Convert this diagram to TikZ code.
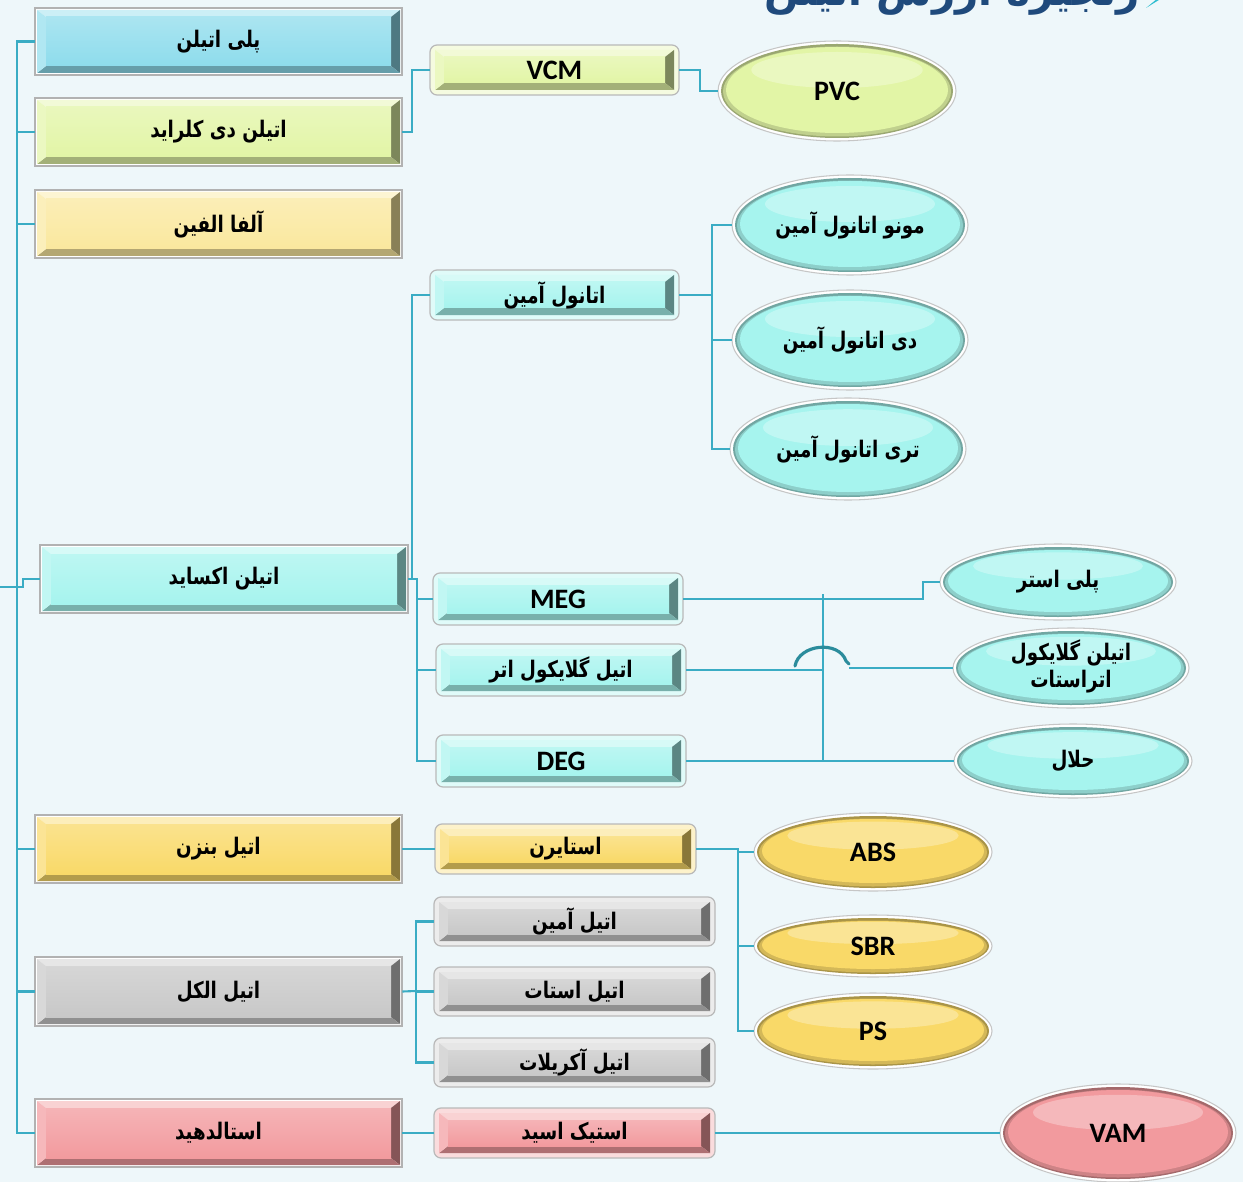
\documentclass[tikz,border=0pt]{standalone}
\usepackage{fontspec}
\TeXXeTstate=1
\newfontfamily\fa[Script=Arabic, FakeStretch=0.8]{DejaVu Sans}
\newfontfamily\fat[Script=Arabic]{DejaVu Sans}
\newfontfamily\lat{Carlito}
\usetikzlibrary{calc,shapes.geometric}
\definecolor{bg}{HTML}{EEF7FA}
\definecolor{cline}{HTML}{3AACC4}
\definecolor{chop}{HTML}{2B8C9C}
\definecolor{ctitle}{HTML}{1F4A7C}
\definecolor{cblue}{HTML}{8EDCEC}
\definecolor{cygr}{HTML}{E2F5A6}
\definecolor{cyel}{HTML}{FAE89E}
\definecolor{ccyan}{HTML}{A6F4EE}
\definecolor{cgold}{HTML}{F9D968}
\definecolor{cgray}{HTML}{C8C8C8}
\definecolor{cpink}{HTML}{F29A9E}
\newcommand\fatxt{\fa\bfseries\fontsize{13}{17}\selectfont}
\newcommand\latxt{\lat\bfseries\fontsize{16}{18}\selectfont}
\tikzset{
  conn/.style={draw=cline, line width=1.2pt},
  hop/.style={draw=chop, line width=1.8pt, line cap=round},
  boxnode/.style={rectangle, inner sep=0pt, text=black},
  ellnode/.style={ellipse, inner sep=0pt, text=black},
}
\newcommand\bevcore[5]{%
  \pgfmathsetmacro\bxa{#1}\pgfmathsetmacro\bya{#2}%
  \pgfmathsetmacro\bxb{#3}\pgfmathsetmacro\byb{#4}%
  \pgfmathsetmacro\ixa{\bxa+9}\pgfmathsetmacro\iya{\bya+7}%
  \pgfmathsetmacro\ixb{\bxb-9}\pgfmathsetmacro\iyb{\byb-7}%
  \fill[#5!45!white] (\bxa,\bya) -- (\bxb,\bya) -- (\ixb,\iya) -- (\ixa,\iya) -- cycle;
  \fill[#5!55!black] (\bxb,\bya) -- (\bxb,\byb) -- (\ixb,\iyb) -- (\ixb,\iya) -- cycle;
  \fill[#5!72!black] (\bxb,\byb) -- (\bxa,\byb) -- (\ixa,\iyb) -- (\ixb,\iyb) -- cycle;
  \fill[#5!70!white] (\bxa,\byb) -- (\bxa,\bya) -- (\ixa,\iya) -- (\ixa,\iyb) -- cycle;
  \shade[top color=#5!75!white, bottom color=#5] (\ixa,\iya) rectangle (\ixb,\iyb);
}
\newcommand\leftbox[7]{%
  \filldraw[fill=white, draw=gray!60, line width=0.7pt] (#2,#3) rectangle (#4,#5);
  \bevcore{#2+2}{#3+2}{#4-2}{#5-2}{#6}
  \node[boxnode, minimum width={(#4-#2)*0.02cm}, minimum height={(#5-#3)*0.02cm}]
    (#1) at ({(#2+#4)/2},{(#3+#5)/2}) {#7};
}
\newcommand\midbox[7]{%
  \filldraw[fill=#6!35!white, draw=gray!55, line width=0.7pt, rounded corners=4pt] (#2,#3) rectangle (#4,#5);
  \bevcore{#2+5}{#3+5}{#4-5}{#5-5}{#6}
  \node[boxnode, minimum width={(#4-#2)*0.02cm}, minimum height={(#5-#3)*0.02cm}]
    (#1) at ({(#2+#4)/2},{(#3+#5)/2}) {#7};
}
\newcommand\gloss[7]{%
  \filldraw[fill=white, draw=gray!45, line width=0.6pt] (#2,#3) ellipse [x radius=#4, y radius=#5];
  \fill[#6!68!black] (#2,#3) ellipse [x radius=#4-3, y radius=#5-3];
  \fill[#6!85!black] (#2,#3+0.5) ellipse [x radius=#4-5, y radius=#5-5];
  \fill[#6] (#2,#3-1) ellipse [x radius=#4-8, y radius=#5-7];
  \fill[white, opacity=0.3] (#2,{#3-#5*0.42}) ellipse [x radius={#4*0.72}, y radius={#5*0.36}];
  \node[ellnode, minimum width={#4*0.04cm}, minimum height={#5*0.04cm}] (#1) at (#2,#3) {#7};
}
\begin{document}
\begin{tikzpicture}[x=0.02cm, y=-0.02cm]
\fill[bg] (0,0) rectangle (1243,1182);
\useasboundingbox (0,0) rectangle (1243,1182);
\begin{scope}
\clip (0,0) rectangle (1243,1182);
% title, cut by the top edge as in the reference
\node[font=\fat\bfseries\fontsize{23}{26}\selectfont, text=ctitle, anchor=base] (title) at (952,6) {\beginR زنجیره ارزش اتیلن\endR};
\fill[cline!80!cyan] (1146,8) -- (1162,-2) -- (1158,-2) -- cycle;

\coordinate (tk) at (17,0);
\coordinate (root) at (0,587);

% left column
\leftbox{pe}{35}{8}{402}{75}{cblue}{\fatxt\beginR پلی اتیلن\endR}
\leftbox{edc}{35}{98}{402}{166}{cygr}{\fatxt\beginR اتیلن دی کلراید\endR}
\leftbox{ao}{35}{190}{402}{258}{cyel}{\fatxt\beginR آلفا الفین\endR}
\leftbox{eo}{40}{545}{408}{613}{ccyan}{\fatxt\beginR اتیلن اکساید\endR}
\leftbox{ebz}{35}{815}{402}{883}{cgold}{\fatxt\beginR اتیل بنزن\endR}
\leftbox{eal}{35}{957}{402}{1026}{cgray}{\fatxt\beginR اتیل الکل\endR}
\leftbox{ald}{35}{1099}{402}{1167}{cpink}{\fatxt\beginR استالدهید\endR}

% middle column
\midbox{vcm}{430}{45}{679}{95}{cygr}{\latxt VCM}
\midbox{eta}{430}{270}{679}{320}{ccyan}{\fatxt\beginR اتانول آمین\endR}
\midbox{meg}{433}{573}{683}{625}{ccyan}{\latxt MEG}
\midbox{ege}{436}{644}{686}{696}{ccyan}{\fatxt\beginR اتیل گلایکول اتر\endR}
\midbox{deg}{436}{735}{686}{787}{ccyan}{\latxt DEG}
\midbox{sty}{435}{824}{696}{874}{cgold}{\fatxt\beginR استایرن\endR}
\midbox{eam}{434}{897}{715}{946}{cgray}{\fatxt\beginR اتیل آمین\endR}
\midbox{eas}{434}{967}{715}{1016}{cgray}{\fatxt\beginR اتیل استات\endR}
\midbox{eac}{434}{1038}{715}{1087}{cgray}{\fatxt\beginR اتیل آکریلات\endR}
\midbox{aca}{434}{1108}{715}{1158}{cpink}{\fatxt\beginR استیک اسید\endR}

% ellipses
\gloss{pvc}{837}{91}{119}{50}{cygr}{\latxt PVC}
\gloss{mono}{850}{225}{118}{50}{ccyan}{\fatxt\beginR مونو اتانول آمین\endR}
\gloss{di}{850}{340}{118}{50}{ccyan}{\fatxt\beginR دی اتانول آمین\endR}
\gloss{tri}{848}{449}{118}{51}{ccyan}{\fatxt\beginR تری اتانول آمین\endR}
\gloss{pes}{1058}{582}{118}{38}{ccyan}{\fatxt\beginR پلی استر\endR}
\gloss{egs}{1071}{668}{118}{40}{ccyan}{\fatxt\begin{tabular}{@{}c@{}}\beginR اتیلن گلایکول\endR\\[-2pt]\beginR اتراستات\endR\end{tabular}}
\gloss{hal}{1073}{761}{119}{37}{ccyan}{\fatxt\beginR حلال\endR}
\gloss{abs}{873}{852}{119}{39}{cgold}{\latxt ABS}
\gloss{sbr}{873}{946}{119}{31}{cgold}{\latxt SBR}
\gloss{ps}{873}{1031}{119}{38}{cgold}{\latxt PS}
\gloss{vam}{1118}{1133}{118}{49}{cpink}{\latxt VAM}

% connectors
\draw[conn] (pe.west) -- (pe.west -| tk) |- (ald.west);
\draw[conn] (edc.west -| tk) -- (edc.west);
\draw[conn] (ao.west -| tk) -- (ao.west);
\draw[conn] (ebz.west -| tk) -- (ebz.west);
\draw[conn] (eal.west -| tk) -- (eal.west);
\draw[conn] (root) -- (23,587) -- (23,579) -- (eo.west);

\draw[conn] (edc.east) -- ++(10,0) |- (vcm.west);
\draw[conn] (vcm.east) -- ++(21,0) |- (pvc.west);

\draw[conn] (eo.east) -- ++(4,0) |- (eta.west);
\coordinate (ea) at (712,295);
\draw[conn] (eta.east) -- (ea);
\draw[conn] (mono.west) -| (ea) |- (tri.west);
\draw[conn] (ea |- di.west) -- (di.west);

\coordinate (eb) at (417,579);
\draw[conn] (eo.east) -- (eb) |- (meg.west);
\draw[conn] (eb) |- (ege.west);
\draw[conn] (eb) |- (deg.west);

\coordinate (mp) at (923,599);
\draw[conn] (meg.east) -- (mp) |- (pes.west);
\coordinate (jx) at (823,594);
\draw[conn] (jx) -- (jx |- deg.east);
\draw[conn] (deg.east) -- (hal.west);
\coordinate (hopa) at (795,666);
\coordinate (hopb) at (849,668);
\draw[conn] (ege.east) -- (jx |- ege.east);
\draw[hop] (hopa) .. controls (799,644) and (839,640) .. (846,661) -- (849,664);
\draw[conn] (hopb) -- (egs.west);

\draw[conn] (ebz.east) -- (sty.west);
\coordinate (sx) at (738,849);
\draw[conn] (sty.east) -- (sx) |- (ps.west);
\draw[conn] (sx |- abs.west) -- (abs.west);
\draw[conn] (sx |- sbr.west) -- (sbr.west);

\coordinate (ax) at (416,991);
\draw[conn] (eal.east) -- (ax);
\draw[conn] (eam.west) -| (ax) |- (eac.west);
\draw[conn] (ax |- eas.west) -- (eas.west);

\draw[conn] (ald.east) -- (aca.west);
\draw[conn] (aca.east) -- (vam.west);
\end{scope}
\end{tikzpicture}
\end{document}
